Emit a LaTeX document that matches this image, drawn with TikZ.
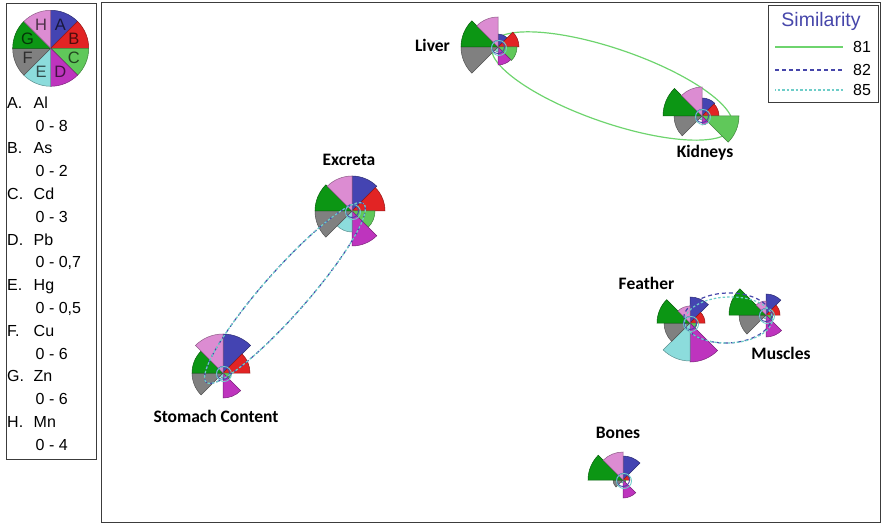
\documentclass[tikz,border=0pt]{standalone}
\usepackage{fontspec}
\setmainfont{Liberation Sans}
\newfontfamily\lblfont{Carlito}
\definecolor{c1}{RGB}{68,68,178}
\definecolor{c2}{RGB}{226,36,36}
\definecolor{c3}{RGB}{96,200,90}
\definecolor{c4}{RGB}{190,52,190}
\definecolor{c5}{RGB}{140,220,220}
\definecolor{c6}{RGB}{128,128,128}
\definecolor{c7}{RGB}{12,150,20}
\definecolor{c8}{RGB}{220,140,210}
\definecolor{simgreen}{RGB}{110,212,110}
\definecolor{simblue}{RGB}{70,70,170}
\definecolor{simcyan}{RGB}{110,205,200}
\definecolor{frame}{RGB}{60,60,60}
\tikzset{
  sector/.style={line width=0.5pt},
  markblue/.style={draw=simblue, line width=0.9pt},
  markcyan/.style={draw=simcyan, line width=0.9pt},
  lbl/.style={font=\lblfont\bfseries\fontsize{17.5}{20}\selectfont, inner sep=0},
  legtxt/.style={font=\fontsize{16}{18}\selectfont, inner sep=0, anchor=base west},
  boxframe/.style={draw=frame, line width=1pt},
  sim81/.style={draw=simgreen, line width=1.2pt},
  sim82/.style={draw=simblue, line width=1.2pt, dash pattern=on 4pt off 3pt},
  sim85/.style={draw=simcyan, line width=1.2pt, dash pattern=on 2.5pt off 2pt, dash phase=2pt},
}
\newcommand\pieglyph[2]{%
  \foreach \rad [count=\i] in {#2} {
    \pgfmathsetmacro\sa{90-45*\i}
    \pgfmathsetmacro\ea{135-45*\i}
    \filldraw[sector, fill=c\i, draw=c\i!65!black, shift={(#1)}] (0,0) -- (\sa:\rad) arc[start angle=\sa, end angle=\ea, radius=\rad] -- cycle;
  }
  \draw[markblue] (#1) circle[radius=6.5];
  \draw[markcyan] ([shift={(1,-1)}]#1) circle[radius=7.5];
}
\begin{document}
\begin{tikzpicture}[x=1pt,y=1pt]
\useasboundingbox (0,0) rectangle (882,525);
% frames
\draw[boxframe] (101,3) rectangle (880.5,522);
\draw[boxframe] (6,66) rectangle (96,521);

% glyph positions
\coordinate (liver) at (498,478);
\coordinate (kidneys) at (702,409);
\coordinate (excreta) at (352,314);
\coordinate (stomach) at (223,152);
\coordinate (feather) at (690,202);
\coordinate (muscles) at (766,210);
\coordinate (bones) at (623,45);
\coordinate (lk) at (612,439);
\coordinate (es) at (285,232);
\coordinate (fm) at (727.5,207);

% similarity 81 ellipse (behind glyphs)
\draw[sim81, rotate around={-19:(lk)}] (lk) ellipse[x radius=127, y radius=37];

% glyphs: radii A,B,C,D,E,F,G,H
\pieglyph{liver}{13,21,19,18,5,37,37,30}
\pieglyph{kidneys}{18,17,37,9,4,28,39,29}
\pieglyph{excreta}{35,33,23,35,21,37,37,35}
\pieglyph{stomach}{39,27,8,25,5,31,31,39}
\pieglyph{feather}{26,15,7,39,38,26,33,17}
\pieglyph{muscles}{21,14,7,22,4,27,37,14}
\pieglyph{bones}{24,7,3,18,3,10,35,28}

% similarity 82 / 85 ellipses
\draw[sim82, rotate around={48.6:(es)}] (es) ellipse[x radius=119, y radius=22];
\draw[sim85, rotate around={48.6:(es)}] (es) ellipse[x radius=119, y radius=22];
\draw[sim82, rotate around={2:(fm)}] (fm) ellipse[x radius=44, y radius=25];
\draw[sim85, rotate around={2:(fm)}] ([shift={(1,-2)}]fm) ellipse[x radius=44, y radius=23];

% labels
\node[lbl] (tliver) at (432.5,480) {Liver};
\node[lbl] (tkid) at (705,372) {Kidneys};
\node[lbl] (texc) at (349,365) {Excreta};
\node[lbl] (tsto) at (216,109) {Stomach Content};
\node[lbl] (tfea) at (646.5,242) {Feather};
\node[lbl] (tmus) at (781,172) {Muscles};
\node[lbl] (tbon) at (618,92) {Bones};

% similarity legend
\draw[boxframe] (768,422.5) rectangle (878.5,519);
\node[font=\fontsize{19.5}{22}\selectfont, text=simblue, inner sep=0] (simtitle) at (821,504) {Similarity};
\coordinate (g1) at (775,478); \coordinate (g2) at (843,478);
\coordinate (b1) at (775,455); \coordinate (b2) at (843,455);
\coordinate (y1) at (775,435); \coordinate (y2) at (843,435);
\draw[sim81] (g1) -- (g2);
\draw[sim82] (b1) -- (b2);
\draw[sim85] (y1) -- (y2);
\node[font=\fontsize{16}{18}\selectfont, inner sep=0] (n81) at (862,478) {81};
\node[font=\fontsize{16}{18}\selectfont, inner sep=0] (n82) at (862,455) {82};
\node[font=\fontsize{16}{18}\selectfont, inner sep=0] (n85) at (862,435) {85};

% key pie
\coordinate (key) at (50.7,476.7);
\foreach \lt [count=\i] in {A,B,C,D,E,F,G,H} {
  \pgfmathsetmacro\sa{90-45*\i}
  \pgfmathsetmacro\ea{135-45*\i}
  \filldraw[sector, fill=c\i, draw=c\i!65!black, shift={(key)}] (0,0) -- (\sa:38) arc[start angle=\sa, end angle=\ea, radius=38] -- cycle;
}
\foreach \lt [count=\i] in {A,B,C,D,E,F,G,H} {
  \pgfmathsetmacro\ma{112.5-45*\i}
  \node[font=\fontsize{16.5}{18}\selectfont, text=c\i!35!black, inner sep=0] (key\lt) at ([shift={(\ma:25)}]key) {\lt};
}

% key text
\foreach \lt/\el/\rng [count=\k from 0] in {A/Al/{0 - 8},B/As/{0 - 2},C/Cd/{0 - 3},D/Pb/{0 - 0,7},E/Hg/{0 - 0,5},F/Cu/{0 - 6},G/Zn/{0 - 6},H/Mn/{0 - 4}} {
  \pgfmathsetmacro\ya{422.5-45.6*\k-5.8}
  \pgfmathsetmacro\yb{422.5-45.6*\k-22.8-5.8}
  \node[legtxt] (kl\lt) at (7,\ya) {\lt.};
  \node[legtxt] (ke\lt) at (33.5,\ya) {\el};
  \node[legtxt] (kr\lt) at (35.5,\yb) {\rng};
}
\end{tikzpicture}
\end{document}
